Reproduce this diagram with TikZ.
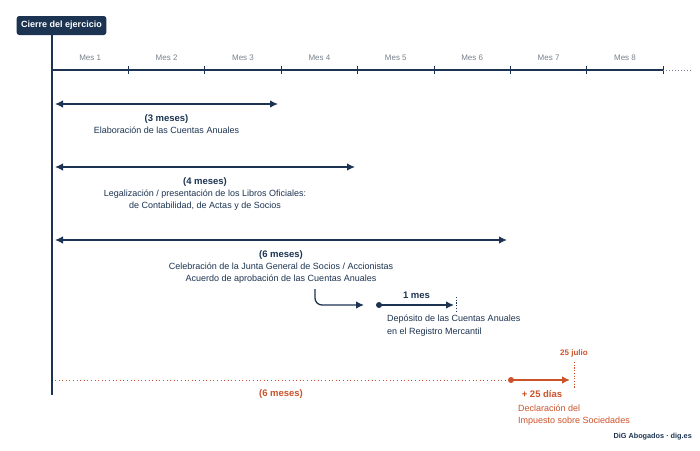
\documentclass[tikz,border=0pt]{standalone}
\usepackage{fontspec}
\setmainfont{Liberation Sans}
\usetikzlibrary{arrows.meta,positioning,calc}
\definecolor{digblue}{RGB}{28,52,82}
\definecolor{diggray}{RGB}{120,130,142}
\definecolor{digorange}{RGB}{204,82,42}
\newcommand{\spanheadfont}{\bfseries\fontsize{9.5}{12.4}\selectfont}
\tikzset{
    titlebox/.style={rectangle, rounded corners=2.5pt, fill=digblue, text=white, font=\bfseries\fontsize{9}{10}\selectfont, minimum height=19pt, inner xsep=4.5pt},
    axis/.style={digblue, line width=1.1pt},
    tick/.style={digblue, line width=0.8pt},
    monthlabel/.style={text=diggray, font=\fontsize{8}{9}\selectfont},
    span/.style={digblue, line width=1.3pt, {Latex[length=8pt,width=7.5pt]}-{Latex[length=8pt,width=7.5pt]}},
    flow/.style={digblue, line width=1.3pt, -{Latex[length=8pt,width=7.5pt]}},
    flowO/.style={digorange, line width=1.3pt, -{Latex[length=8pt,width=7.5pt]}},
    spanlabel/.style={text=digblue, align=center, inner sep=0pt, font=\fontsize{9}{12.4}\selectfont},
    note/.style={text=digblue, align=left, inner sep=0pt, font=\fontsize{9}{12.8}\selectfont},
    noteO/.style={text=digorange, align=left, inner sep=0pt, font=\fontsize{9}{12}\selectfont},
    dot/.style={circle, inner sep=0pt, minimum size=6pt},
    endmark/.style={dash pattern=on 1.2pt off 1.5pt, line width=0.7pt},
}

\begin{document}
\begin{tikzpicture}[x=1pt, y=-1pt]
    \useasboundingbox[fill=white] (0,0) rectangle (700,450);
    % eje de tiempo
    \node[titlebox] (cierre) at (61.5,25.5) {Cierre del ejercicio};
    \coordinate (o) at (52,35);
    \coordinate (oend) at (52,395);
    \coordinate (h0) at (52,70);
    \draw[axis] (o) -- (oend);
    \foreach \i in {1,...,8} {
        \coordinate (t\i) at ({52+76.4*\i},70);
        \draw[tick] ($(t\i)+(0,-4)$) -- ($(t\i)+(0,4)$);
        \node[monthlabel] (m\i) at ({52+76.4*(\i-0.5)},58) {Mes \i};
    }
    \draw[axis] (h0) -- (t8);
    \coordinate (hend) at (693,70);
    \draw[diggray, line width=0.8pt, dash pattern=on 1pt off 2pt] (t8) -- (hend);
    % plazos
    \coordinate (a1) at (55,104);  \coordinate (b1) at (278,104);
    \coordinate (a2) at (55,167);  \coordinate (b2) at (355,167);
    \coordinate (a3) at (55,240);  \coordinate (b3) at (507,240);
    \draw[span] (a1) -- (b1) node[spanlabel, midway, below=9.5pt] (lab1) {{\spanheadfont(3 meses)}\\Elaboración de las Cuentas Anuales};
    \draw[span] (a2) -- (b2) node[spanlabel, midway, below=9.5pt] (lab2) {{\spanheadfont(4 meses)}\\Legalización / presentación de los Libros Oficiales:\\de Contabilidad, de Actas y de Socios};
    \draw[span] (a3) -- (b3) node[spanlabel, midway, below=9.5pt] (lab3) {{\spanheadfont(6 meses)}\\Celebración de la Junta General de Socios / Accionistas\\Acuerdo de aprobación de las Cuentas Anuales};
    % deposito
    \coordinate (j0) at (315,289);
    \coordinate (j1) at (364,305);
    \draw[flow, rounded corners=7pt] (j0) |- (j1);
    \node[dot, fill=digblue] (d0) at (379,305) {};
    \coordinate (d1) at (454,305);
    \draw[flow] (d0.center) -- (d1) node[midway, above=6pt, text=digblue, font=\bfseries\fontsize{9.5}{10}\selectfont, inner sep=0pt] (mes1) {1 mes};
    \coordinate (v0) at (456,297); \coordinate (v1) at (456,313);
    \draw[digblue, endmark] (v0) -- (v1);
    \node[note, anchor=north west] (dep) at (387,315) {Depósito de las Cuentas Anuales\\en el Registro Mercantil};
    % impuesto sobre sociedades
    \coordinate (i0) at (55,380);
    \node[dot, fill=digorange] (d2) at (511,380) {};
    \coordinate (d3) at (570,380);
    \draw[digorange, line width=0.9pt, dash pattern=on 1pt off 2.6pt] (i0) -- (d2);
    \draw[flowO] (d2.center) -- (d3);
    \coordinate (w0) at (574,362); \coordinate (w1) at (574,388);
    \draw[digorange, endmark] (w0) -- (w1);
    \node[text=digorange, font=\bfseries\fontsize{8}{9}\selectfont] (julio) at (574,353) {25 julio};
    \node[text=digorange, font=\bfseries\fontsize{9.5}{10}\selectfont] (seis) at (281,394) {(6 meses)};
    \node[text=digorange, font=\bfseries\fontsize{9.5}{10}\selectfont] (dias) at (542,394.5) {+ 25 días};
    \node[noteO, anchor=north west] (decl) at (518,404.5) {Declaración del\\Impuesto sobre Sociedades};
    \node[text=digblue, font=\bfseries\fontsize{7.3}{9}\selectfont, anchor=east, inner sep=0pt] (firma) at (692,437) {DiG Abogados · dig.es};
\end{tikzpicture}
\end{document}
